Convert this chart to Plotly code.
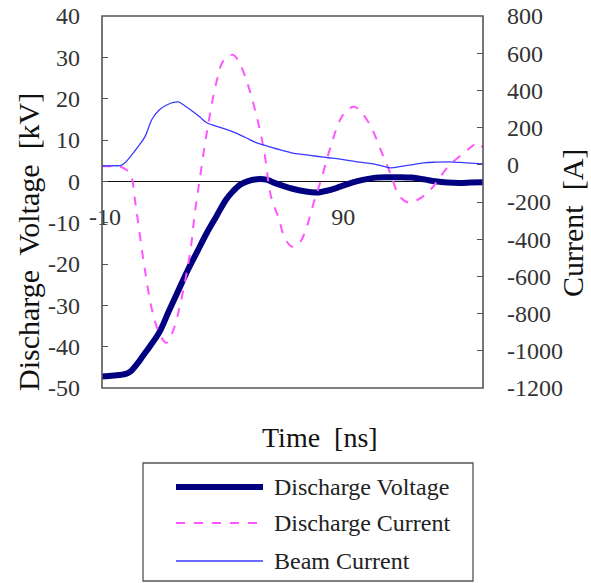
import plotly.graph_objects as go

# ---------------- data ----------------
series_names = ["Discharge Voltage", "Discharge Current", "Beam Current"]

voltage_t = [-10, -5, 0, 2, 5, 7, 10, 14, 18, 22, 26, 30, 34, 38, 42, 45, 48, 51, 55, 59,
             63, 67, 70, 75, 80, 85, 90, 95, 100, 105, 110, 115, 120, 125, 130, 135, 140, 145, 150]
voltage_kv = [-47.2, -47.0, -46.6, -46.0, -44.0, -42.4, -40.0, -36.6, -31.5, -26.5, -21.5, -17.0,
              -12.5, -8.5, -4.5, -2.4, -0.8, 0.0, 0.5, 0.4, -0.5, -1.3, -1.8, -2.4, -2.7, -2.2,
              -1.3, -0.3, 0.4, 0.9, 1.0, 1.0, 0.9, 0.5, 0.0, -0.3, -0.4, -0.3, -0.2]

dcur_t = [-10, -5, -2, 0, 2, 4, 6, 8, 11, 14, 17, 20, 23, 27, 29, 31, 34, 38, 41, 45, 48, 51,
          55, 58, 61, 64, 67, 70, 73, 76, 79, 82, 86, 90, 93, 96, 99, 103, 107, 111, 115, 119,
          123, 128, 132, 136, 140, 144, 148, 150]
dcur_a = [-8, -8, -12, -25, -50, -204, -387, -564, -780, -903, -957, -887, -742, -473, -258,
          -81, 172, 441, 560, 591, 540, 441, 258, 80, -172, -280, -400, -441, -420, -333, -200,
          -81, 97, 242, 295, 312, 280, 204, 81, -43, -170, -204, -185, -134, -65, 0, 43, 85,
          118, 91]

beam_t = [-10, -5, -2, 0, 2, 5, 8, 11, 14, 17, 20, 22, 25, 28, 31, 34, 40, 45, 50, 55, 60, 65,
          70, 75, 80, 85, 90, 97, 104, 111, 115, 120, 125, 130, 136, 143, 150]
beam_a = [-5, -5, -3, 15, 45, 95, 150, 245, 295, 320, 335, 338, 315, 288, 258, 226, 200, 177,
          148, 118, 98, 80, 63, 55, 46, 38, 30, 16, 5, -16, -10, 0, 10, 14, 16, 10, 5]

x_ticks = [-10, 90]
x_range = [-10, 150]
yl_ticks = [-50, -40, -30, -20, -10, 0, 10, 20, 30, 40]
yr_ticks = [-1200, -1000, -800, -600, -400, -200, 0, 200, 400, 600, 800]
yl_range = [-50, 40]
yr_range = [-1200, 800]

# ---------------- layout helpers ----------------
W, H = 591, 583
L, R, T, B = 102, 483, 16, 388          # plot area in pixels


def px(xp):
    return (xp - L) / (R - L)


def py(yp):
    return (B - yp) / (B - T)


FONT = "Liberation Serif"
colors = ["#000080", "#ff55ff", "#3a3aff"]
widths = [6, 2, 1.3]
dashes = ["solid", "dash", "solid"]

fig = go.Figure()
fig.add_trace(go.Scatter(x=voltage_t, y=voltage_kv, name=series_names[0], mode="lines",
                         line=dict(color=colors[0], width=widths[0], shape="spline"),
                         yaxis="y"))
fig.add_trace(go.Scatter(x=dcur_t, y=dcur_a, name=series_names[1], mode="lines",
                         line=dict(color=colors[1], width=widths[1], dash=dashes[1],
                                   shape="spline"),
                         yaxis="y2"))
fig.add_trace(go.Scatter(x=beam_t, y=beam_a, name=series_names[2], mode="lines",
                         line=dict(color=colors[2], width=widths[2], shape="spline"),
                         yaxis="y2"))

tick_font = dict(family=FONT, size=24, color="#333333")
title_font = dict(family=FONT, size=28, color="#111111")
vtitle_font = dict(family=FONT, size=30, color="#111111")
legend_font = dict(family=FONT, size=24, color="#222222")

fig.update_layout(
    width=W, height=H,
    margin=dict(l=L, r=W - R, t=T, b=H - B, pad=0, autoexpand=False),
    paper_bgcolor="white", plot_bgcolor="white",
    showlegend=False,
    xaxis=dict(range=x_range, tickvals=x_ticks, ticktext=[str(v) for v in x_ticks],
               anchor="free", position=(0 - yl_range[0]) / (yl_range[1] - yl_range[0]),
               showline=False, showgrid=False, zeroline=False, automargin=False,
               ticks="", tickfont=tick_font, ticklabelstandoff=19, ticklabelshift=3,
               ticklabeloverflow="allow"),
    yaxis=dict(range=yl_range, tickvals=yl_ticks, ticktext=[str(v) for v in yl_ticks],
               showgrid=False, zeroline=True, automargin=False,
               zerolinecolor="#111111", zerolinewidth=1,
               ticks="inside", ticklen=6, tickcolor="#555555", tickwidth=1.3,
               tickfont=tick_font, ticklabelstandoff=21, showline=False,
               ticklabeloverflow="allow"),
    yaxis2=dict(range=yr_range, tickvals=yr_ticks, ticktext=[str(v) for v in yr_ticks],
                overlaying="y", side="right", automargin=False,
                showgrid=False, zeroline=False,
                ticks="inside", ticklen=6, tickcolor="#555555", tickwidth=1.3,
                tickfont=tick_font, ticklabelstandoff=23, showline=False,
                ticklabeloverflow="allow"),
)

# plot border
fig.add_shape(type="rect", xref="paper", yref="paper", x0=0, x1=1, y0=0, y1=1,
              line=dict(color="#555555", width=1.6), layer="above")

# axis titles
fig.add_annotation(text="Discharge  Voltage  [kV]", xref="paper", yref="paper",
                   x=px(28), y=py(242), showarrow=False, textangle=-90,
                   font=vtitle_font, xanchor="center", yanchor="middle")
fig.add_annotation(text="Current  [A]", xref="paper", yref="paper",
                   x=px(573), y=py(223), showarrow=False, textangle=-90,
                   font=vtitle_font, xanchor="center", yanchor="middle")
fig.add_annotation(text="Time  [ns]", xref="paper", yref="paper",
                   x=px(320), y=py(437), showarrow=False,
                   font=title_font, xanchor="center", yanchor="middle")

# legend box (custom, to match long line samples)
fig.add_shape(type="rect", xref="paper", yref="paper",
              x0=px(143), x1=px(473), y0=py(581), y1=py(463),
              line=dict(color="#555555", width=1.3), fillcolor="white")
rows = [487, 523, 561]
for name, c, w, d, ry in zip(series_names, colors, widths, dashes, rows):
    fig.add_shape(type="line", xref="paper", yref="paper",
                  x0=px(176), x1=px(263), y0=py(ry), y1=py(ry),
                  line=dict(color=c, width=w, dash=d))
    fig.add_annotation(text=name, xref="paper", yref="paper",
                       x=px(272), y=py(ry), showarrow=False, font=legend_font,
                       xanchor="left", yanchor="middle")

# remove the page's default body margin so the figure sits at the window's corner
fig.write_html("out.html",
               config={"displayModeBar": False},
               post_script="document.body.style.margin='0px';"
                           "document.body.style.overflow='hidden';")
